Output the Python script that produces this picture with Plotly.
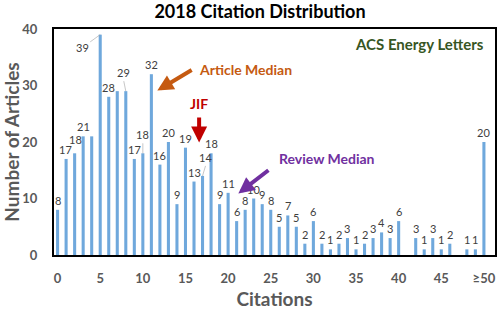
import plotly.graph_objects as go

citations = list(range(51))
counts = [8, 17, 18, 21, 21, 39, 28, 29, 29, 17, 18, 32, 16, 20, 9, 19, 13, 14, 18, 9,
          11, 6, 8, 10, 9, 8, 5, 7, 5, 2, 6, 2, 1, 2, 3, 1, 2, 3, 4, 3,
          6, 0, 3, 1, 3, 1, 2, 0, 1, 1, 20]
labelled = [c not in (4, 7) and v > 0 for c, v in zip(citations, counts)]
tick_vals = [0, 5, 10, 15, 20, 25, 30, 35, 40, 45, 50]
tick_text = ["0", "5", "10", "15", "20", "25", "30", "35", "40", "45", "≥50"]

FONT = "Lato"
GRAY = "#595959"
LABEL_FONT = dict(family=FONT, size=11, color="#404040")
# labels lifted off their bar with a thin leader line (as in the reference)
leader = {5: (-18, 13), 8: (-2, -10), 10: (0, -10), 17: (3, -10)}
# small nudges (x, y in px) to keep neighbouring labels apart
nudge = {1: (-1, 0), 2: (1, 4)}

fig = go.Figure()
fig.add_trace(go.Bar(x=citations, y=counts, width=0.36,
                     marker=dict(color="#6FA8DC", line=dict(width=0))))

ann = []
for c, v, show in zip(citations, counts, labelled):
    if not show:
        continue
    if c in leader:
        ax, ay = leader[c]
        ann.append(dict(x=c, y=v, text=str(v), showarrow=True, arrowhead=0,
                        arrowwidth=0.6, arrowcolor="#A0A0A0", ax=ax, ay=ay,
                        yanchor="bottom" if ay < 0 else "middle",
                        font=LABEL_FONT))
    else:
        dx, dy = nudge.get(c, (0, 0))
        ann.append(dict(x=c, y=v, text=str(v), showarrow=False, yanchor="bottom",
                        xshift=dx, yshift=1 + dy, font=LABEL_FONT))

# arrows
ann += [
    dict(x=11.7, y=29.1, ax=15.9, ay=32.9, axref="x", ayref="y", text="",
         showarrow=True, arrowhead=2, arrowsize=0.8, arrowwidth=4, arrowcolor="#C55A11"),
    dict(x=16.4, y=32.9, text="Article Median", showarrow=False, xanchor="left",
         font=dict(family=FONT, size=14, color="#C55A11", weight="bold")),
    dict(x=16.6, y=19.9, ax=16.6, ay=24.6, axref="x", ayref="y", text="",
         showarrow=True, arrowhead=2, arrowsize=0.8, arrowwidth=4, arrowcolor="#C00000"),
    dict(x=16.6, y=26.8, text="JIF", showarrow=False,
         font=dict(family=FONT, size=14, color="#C00000", weight="bold")),
    dict(x=21.2, y=10.9, ax=24.9, ay=15.2, axref="x", ayref="y", text="",
         showarrow=True, arrowhead=2, arrowsize=0.8, arrowwidth=4, arrowcolor="#7030A0"),
    dict(x=25.7, y=17.0, text="Review Median", showarrow=False, xanchor="left",
         font=dict(family=FONT, size=14, color="#7030A0", weight="bold")),
    dict(x=50.2, y=37.4, text="ACS Energy Letters", showarrow=False, xanchor="right",
         font=dict(family=FONT, size=15, color="#375623", weight="bold")),
]

fig.update_layout(
    width=500, height=310,
    margin=dict(l=53, r=3, t=29, b=49),
    paper_bgcolor="white", plot_bgcolor="white",
    showlegend=False,
    title=dict(text="2018 Citation Distribution", x=0.52, xanchor="center",
               y=0.962, yanchor="middle",
               font=dict(family=FONT, size=18, color="black", weight="bold")),
    annotations=ann,
    xaxis=dict(range=[-0.42, 51.3], tickvals=tick_vals, ticktext=tick_text,
               showgrid=False, zeroline=False, showline=True, linecolor="black",
               linewidth=2, mirror=True, ticks="", ticklabelstandoff=10,
               tickfont=dict(family=FONT, size=13, color=GRAY, weight="bold"),
               title=dict(text="Citations", standoff=8,
                          font=dict(family=FONT, size=19, color=GRAY, weight="bold"))),
    yaxis=dict(range=[0, 40], dtick=10, showgrid=False, zeroline=False,
               showline=True, linecolor="black", linewidth=2, mirror=True,
               ticks="", ticklabelstandoff=12,
               tickfont=dict(family=FONT, size=13, color=GRAY, weight="bold"),
               title=dict(text="Number of Articles", standoff=6,
                          font=dict(family=FONT, size=19, color=GRAY, weight="bold"))),
)

fig.write_html("out.html")
